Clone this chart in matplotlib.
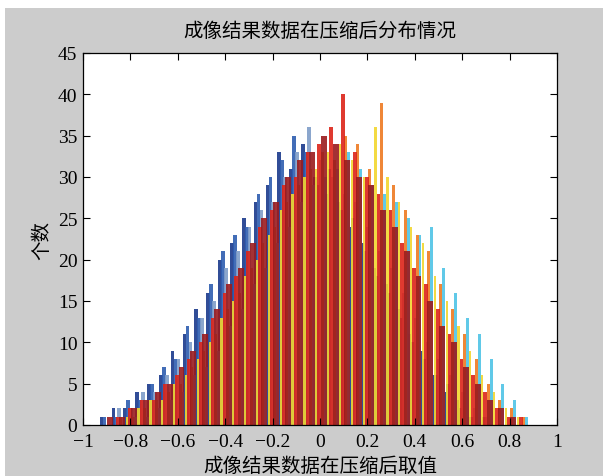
import numpy as np
import matplotlib
matplotlib.use("Agg")
import matplotlib.pyplot as plt
from matplotlib.patches import Rectangle

# bin centers of the histogram
bins = [-0.9, -0.85, -0.8, -0.75, -0.7, -0.65, -0.6, -0.55, -0.5, -0.45,
        -0.4, -0.35, -0.3, -0.25, -0.2, -0.15, -0.1, -0.05, 0.0, 0.05,
        0.1, 0.15, 0.2, 0.25, 0.3, 0.35, 0.4, 0.45, 0.5, 0.55,
        0.6, 0.65, 0.7, 0.75, 0.8, 0.85]

# counts per bin, one list per column of data
s1 = [1, 2, 2, 4, 5, 6, 9, 11, 14, 16, 20, 22, 25, 27, 29, 33, 31, 34, 30, 28,
      27, 24, 22, 19, 17, 14, 11, 9, 6, 4, 3, 1, 0, 0, 0, 0]
s2 = [1, 1, 3, 3, 5, 7, 8, 12, 13, 17, 21, 23, 24, 28, 30, 32, 35, 33, 29, 31,
      26, 25, 21, 18, 16, 13, 10, 8, 6, 5, 2, 1, 1, 0, 0, 0]
s3 = [0, 2, 2, 4, 4, 6, 8, 10, 13, 15, 19, 21, 24, 26, 27, 30, 33, 36, 32, 30,
      28, 27, 24, 21, 19, 16, 13, 10, 8, 6, 4, 2, 1, 0, 0, 0]
s4 = [1, 1, 2, 3, 4, 5, 7, 9, 11, 14, 17, 19, 22, 25, 27, 30, 32, 33, 35, 34,
      32, 30, 29, 26, 24, 21, 18, 15, 12, 10, 7, 5, 3, 2, 1, 0]
s5 = [0, 1, 2, 3, 3, 5, 6, 8, 10, 13, 16, 18, 21, 24, 26, 29, 30, 33, 34, 36,
      40, 33, 30, 28, 26, 22, 19, 17, 14, 11, 8, 6, 4, 2, 1, 1]
s6 = [0, 1, 1, 2, 3, 4, 5, 7, 9, 11, 14, 16, 19, 22, 24, 27, 29, 31, 33, 32,
      35, 34, 31, 39, 29, 26, 23, 21, 17, 14, 11, 8, 5, 3, 2, 1]
s7 = [0, 0, 1, 2, 3, 3, 5, 6, 8, 10, 13, 15, 18, 20, 23, 26, 28, 30, 31, 33,
      34, 32, 30, 36, 30, 27, 24, 22, 18, 15, 12, 9, 6, 4, 2, 1]
s8 = [0, 0, 1, 1, 2, 3, 4, 6, 7, 9, 12, 14, 17, 19, 22, 24, 27, 29, 30, 31,
      33, 31, 29, 28, 27, 25, 23, 24, 19, 16, 13, 11, 8, 5, 3, 1]

series = [s1, s2, s3, s8, s7, s6, s5, s4]
colors = ['#1a3a8c', '#2e5db0', '#7f9cc8', '#4fc3e6', '#f2d62e',
          '#ee7a22', '#dc2419', '#9a1a1e']
offsets = [0, 2, 4, 7, 1, 5, 3, 6]  # slot of each column inside a bin
widths = [2.5, 2.5, 2.5, 2.0, 1.5, 2.0, 2.5, 4.0]

fig = plt.figure(figsize=(6.03, 4.77), dpi=100, facecolor='white')
fig.patches.append(Rectangle((5 / 603, 0), 1, 1 - 9 / 477, transform=fig.transFigure,
                             facecolor='#cccccc', edgecolor='none', zorder=-10))
ax = fig.add_axes([83 / 603, 1 - 426 / 477, (557 - 83) / 603, (426 - 54) / 477])
ax.set_facecolor('white')

cjk = ['Noto Sans CJK SC', 'DejaVu Sans']
num = ['Liberation Serif', 'DejaVu Serif']

x = np.array(bins)
binw = 0.05
n = len(series)
slot = binw / n
for vals, c, k, w in zip(series, colors, offsets, widths):
    ax.bar(x - binw / 2 + slot * (k + 0.5), vals, width=slot * w, color=c,
           alpha=0.9, edgecolor='none', linewidth=0)

ax.set_xlim(-1, 1)
ax.set_ylim(0, 45)
ax.set_xticks(np.arange(-1, 1.01, 0.2))
ax.set_xticklabels(['\u22121', '\u22120.8', '\u22120.6', '\u22120.4', '\u22120.2',
                    '0', '0.2', '0.4', '0.6', '0.8', '1'])
ax.set_yticks(range(0, 46, 5))
ax.tick_params(direction='in', top=True, right=True, length=5, width=0.8,
               labelsize=14)
ax.tick_params(axis='x', pad=6)
ax.tick_params(axis='y', pad=4)
for lab in ax.get_xticklabels() + ax.get_yticklabels():
    lab.set_family(num)
for sp in ax.spines.values():
    sp.set_linewidth(0.9)

ax.set_title('成像结果数据在压缩后分布情况', family=cjk, fontsize=14, pad=12)
ax.set_xlabel('成像结果数据在压缩后取值', family=cjk, fontsize=14, labelpad=3)
ax.set_ylabel('个数', family=cjk, fontsize=14, labelpad=4)

fig.savefig('out.png', dpi=100, facecolor=fig.get_facecolor())
